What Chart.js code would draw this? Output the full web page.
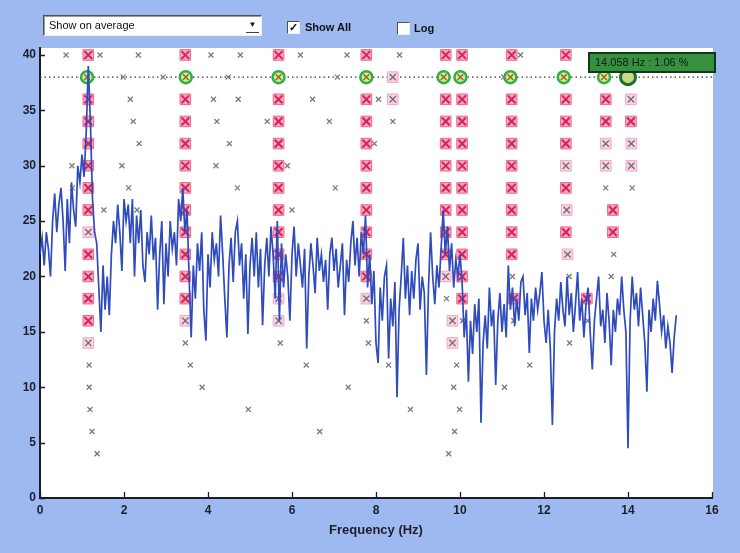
<!DOCTYPE html>
<html>
<head>
<meta charset="utf-8">
<script src="https://cdn.jsdelivr.net/npm/chart.js"></script>
<style>
html, body { margin: 0; padding: 0; }
body {
    width: 740px; height: 553px; overflow: hidden; position: relative;
    background: #9db9ef;
    font-family: "Liberation Sans", Arial, sans-serif;
}
.chart-box { position: absolute; left: 0; top: 0; width: 740px; height: 553px; }
.combo {
    position: absolute; left: 43px; top: 15px; width: 217px; height: 19px;
    background: #fff; border: 1px solid; border-color: #505050 #f0f0f0 #f0f0f0 #505050;
    box-shadow: inset 1px 1px 0 #9a9a9a; font-size: 11px; color: #111;
}
.combo span { position: absolute; left: 5px; top: 3px; }
.combo .arrow {
    position: absolute; right: 2px; top: 2px; width: 13px; height: 14px;
    border-bottom: 1px solid #444; font-size: 8px; text-align: center; line-height: 14px;
}
.check {
    position: absolute; width: 11px; height: 11px; background: #fff;
    border: 1px solid; border-color: #505050 #f0f0f0 #f0f0f0 #505050;
    font-size: 11px; line-height: 11px; text-align: center; font-weight: bold; color: #111;
}
.check-label { position: absolute; font-size: 11px; font-weight: bold; color: #111; }
</style>
</head>
<body>
<div class="chart-box"><canvas id="peakChart"></canvas></div>

<div class="combo"><span>Show on average</span><div class="arrow">&#9660;</div></div>
<div class="check" style="left:287px; top:21px;">&#10003;</div>
<div class="check-label" style="left:305px; top:21px;">Show All</div>
<div class="check" style="left:397px; top:22px;"></div>
<div class="check-label" style="left:414px; top:22px;">Log</div>

<script>
// spectrum, one value every freqStep Hz starting at 0 Hz
const freqStep = 0.05;
const amplitude = [
    22, 23.5, 21, 24, 22.5, 20, 25, 27.5, 24, 26.5, 28, 25, 20.5, 27, 23, 28.5, 26, 24.5, 30, 28.5,
    31, 29, 33, 39, 34, 27, 24, 23, 19, 15, 21, 17, 20, 16.5, 22, 25, 23, 26.5, 24, 20.5,
    27, 25, 26.5, 23, 27, 20, 25.5, 23, 26, 21, 19.5, 24, 22, 25.5, 21.5, 23.5, 17, 22, 25, 17.5,
    23, 20, 25, 22.5, 24, 21, 27, 25, 28, 24, 26, 20, 14.5, 21, 18, 23, 20.5, 24, 17, 14.2,
    22, 19, 24, 21.5, 23, 20, 25.5, 22, 18, 14.5, 21, 23.5, 19.5, 24, 25, 21, 23, 18, 22, 14.8,
    21, 23.5, 20, 24, 19, 22.5, 15.6, 21, 23.5, 20, 24.5, 22, 18, 25, 16, 23, 19, 22, 20, 16,
    22, 24.5, 20, 23, 21, 19, 22.5, 13.5, 20, 23, 21, 18.5, 23.5, 20.5, 22, 19.5, 21.5, 17, 22, 23.5,
    20.5, 22.5, 19, 21, 23, 16.5, 21.5, 19.5, 23, 25, 21, 23.5, 20, 24, 22, 25.5, 19, 22, 17.5, 20.5,
    14, 12.2, 19, 16, 20, 21, 12.6, 18, 15.5, 19.5, 9.1, 17, 20, 23.5, 18, 21, 16.5, 20.5, 18, 21.5,
    23, 17, 20, 18.5, 11.1, 19, 24, 20, 17.5, 21, 19, 22.5, 26, 22, 24.5, 20.5, 23, 19, 21.5, 20,
    22, 19.5, 14.5, 17, 10.5, 16, 13, 17.5, 15, 18, 6.8, 14, 16.5, 13.5, 19, 15.5, 17, 10.2, 16, 18.5,
    15, 17.5, 14.5, 21, 17, 19, 15.5, 18, 16, 19.5, 20, 16.5, 18.5, 13.1, 18, 16, 19, 17, 18.5, 20.4,
    16, 14, 17, 13.5, 6.6, 15, 18, 16, 19.5, 17, 15.5, 20, 16.5, 18.5, 15, 17.5, 20.4, 16, 18, 14.5,
    17.5, 19, 15, 11.6, 16, 18, 20, 15.5, 17, 14, 18.5, 16, 12, 17, 15, 18, 16.5, 20, 17, 15,
    4.5, 16, 20, 17, 18.5, 15.5, 19, 16.5, 14, 9.6, 17, 15, 18, 16, 19.6, 17.5, 15, 16.5, 13.5, 15.5,
    14, 11.3, 14.5, 16.5
];

const xTicks = [0, 2, 4, 6, 8, 10, 12, 14, 16];
const yTicks = [0, 5, 10, 15, 20, 25, 30, 35, 40];
const pickLevel = 38;

// [frequency Hz, level]
const pinkStrong = [
    [1.15, 40], [1.15, 36], [1.15, 34], [1.15, 32], [1.15, 30], [1.15, 28], [1.15, 26], [1.15, 22], [1.15, 20], [1.15, 18], [1.15, 16],
    [3.46, 40], [3.46, 36], [3.46, 34], [3.46, 32], [3.46, 30], [3.46, 28], [3.46, 26], [3.46, 24], [3.46, 22], [3.46, 20], [3.46, 18],
    [5.68, 40], [5.68, 36], [5.68, 34], [5.68, 32], [5.68, 30], [5.68, 28], [5.68, 26], [5.68, 24], [5.68, 22], [5.68, 20],
    [7.77, 40], [7.77, 36], [7.77, 34], [7.77, 32], [7.77, 30], [7.77, 28], [7.77, 26], [7.77, 24], [7.77, 22], [7.77, 20],
    [9.66, 40], [9.66, 36], [9.66, 34], [9.66, 32], [9.66, 30], [9.66, 28], [9.66, 26], [9.66, 24], [9.66, 22],
    [10.05, 40], [10.05, 36], [10.05, 34], [10.05, 32], [10.05, 30], [10.05, 28], [10.05, 26], [10.05, 24], [10.05, 22], [10.05, 20], [10.05, 18],
    [11.23, 40], [11.23, 36], [11.23, 34], [11.23, 32], [11.23, 30], [11.23, 28], [11.23, 26], [11.23, 24], [11.23, 22], [11.28, 18],
    [12.52, 40], [12.52, 36], [12.52, 34], [12.52, 32], [12.52, 28], [12.52, 24],
    [13.47, 36], [13.47, 34], [13.64, 26], [13.64, 24], [14.07, 34], [13.02, 18]
];
const pinkLight = [
    [1.15, 24], [1.15, 14], [3.46, 16], [5.68, 18], [5.68, 16], [7.77, 18], [9.66, 20],
    [9.82, 16], [9.82, 14], [12.52, 30], [12.54, 26], [12.56, 22],
    [13.47, 32], [13.47, 30], [14.07, 36], [14.08, 32], [14.08, 30], [8.4, 38], [8.4, 36]
];
const greenRing = [[1.12, 38], [3.47, 38], [5.68, 38], [7.77, 38], [9.61, 38], [10.01, 38], [11.2, 38], [12.47, 38], [13.43, 38]];
const greenActive = [[14.0, 38]];
const greyCross = [
    [0.62, 40], [1.43, 40], [2.34, 40], [4.07, 40], [4.77, 40], [6.2, 40], [7.31, 40], [8.56, 40], [11.44, 40],
    [1.98, 38], [2.93, 38], [4.48, 38], [7.08, 38], [11.04, 38],
    [2.15, 36], [4.13, 36], [4.72, 36], [6.49, 36], [8.06, 36],
    [2.22, 34], [4.21, 34], [5.41, 34], [6.89, 34], [8.4, 34],
    [2.36, 32], [4.51, 32], [7.96, 32],
    [0.76, 30], [1.95, 30], [4.19, 30], [5.89, 30],
    [0.77, 28], [2.11, 28], [4.7, 28], [7.03, 28], [13.47, 28], [14.1, 28],
    [1.52, 26], [2.31, 26], [6.0, 26],
    [13.66, 22], [11.25, 20], [12.6, 20], [13.6, 20], [9.68, 18],
    [7.77, 16], [10.06, 16], [11.28, 16], [13.04, 16],
    [3.46, 14], [5.72, 14], [7.82, 14], [12.61, 14],
    [1.17, 12], [3.58, 12], [6.34, 12], [8.3, 12], [9.92, 12], [11.66, 12],
    [1.17, 10], [3.86, 10], [7.34, 10], [9.85, 10], [11.06, 10],
    [1.19, 8], [4.96, 8], [8.82, 8], [9.99, 8],
    [1.24, 6], [6.66, 6], [9.87, 6],
    [1.36, 4], [9.73, 4]
];
const cursorFreq = 14.07;
const cursorText = '14.058 Hz : 1.06 %';

const pts = arr => arr.map(p => ({ x: p[0], y: p[1] }));

function marks(data, style, radius, bg, border, width, order) {
    return {
        data: pts(data), showLine: false, pointStyle: style, pointRadius: radius,
        backgroundColor: bg, borderColor: border, pointBorderWidth: width,
        borderWidth: width, order: order, clip: false
    };
}

const plotBg = {
    id: 'plotBg',
    beforeDraw(chart) {
        const a = chart.chartArea, ctx = chart.ctx;
        ctx.save();
        ctx.fillStyle = '#ffffff';
        ctx.fillRect(a.left, a.top, a.right - a.left + 1, a.bottom - a.top);
        ctx.restore();
    }
};

// matlab style ticks pointing into the plot
const innerTicks = {
    id: 'innerTicks',
    afterDraw(chart) {
        const { ctx, chartArea: a, scales } = chart;
        ctx.save();
        ctx.strokeStyle = '#1b1b2b';
        ctx.lineWidth = 1.3;
        ctx.beginPath();
        scales.y.ticks.forEach(t => {
            const py = Math.round(scales.y.getPixelForValue(t.value)) + 0.5;
            ctx.moveTo(a.left, py); ctx.lineTo(a.left + 5, py);
        });
        scales.x.ticks.forEach(t => {
            const px = Math.round(scales.x.getPixelForValue(t.value)) + 0.5;
            ctx.moveTo(px, a.bottom); ctx.lineTo(px, a.bottom - 6);
        });
        ctx.stroke();
        ctx.restore();
    }
};

const cursorBox = {
    id: 'cursorBox',
    afterDatasetsDraw(chart) {
        const { ctx, scales } = chart;
        const px = scales.x.getPixelForValue(cursorFreq);
        const py = scales.y.getPixelForValue(pickLevel);
        const left = Math.round(px - 43), top = Math.round(py - 25);
        ctx.save();
        ctx.fillStyle = '#36903f';
        ctx.fillRect(left, top, 128, 21);
        ctx.strokeStyle = '#0f3a17';
        ctx.lineWidth = 2;
        ctx.strokeRect(left + 1, top + 1, 126, 19);
        ctx.fillStyle = '#0b1f0d';
        ctx.font = '11px "Liberation Sans", Arial, sans-serif';
        ctx.textBaseline = 'middle';
        ctx.fillText(cursorText, left + 7, top + 11);
        ctx.restore();
    }
};

new Chart(document.getElementById('peakChart'), {
    type: 'scatter',
    data: {
        datasets: [
            {
                data: amplitude.map((v, i) => ({ x: i * freqStep, y: v })),
                showLine: true, borderColor: '#2f4bbd', borderWidth: 1.7,
                pointRadius: 0, order: 0
            },
            marks(greyCross, 'crossRot', 3.5, '#7a7a7a', '#7a7a7a', 1.3, 1),
            marks(pinkStrong, 'crossRot', 5.5, '#d3264f', '#d3264f', 2, 2),
            marks(pinkLight, 'crossRot', 4.5, '#6f6f7a', '#6f6f7a', 1.4, 2),
            marks(greenRing, 'crossRot', 4, '#8a6b2e', '#8a6b2e', 1.5, 2),
            marks(pinkStrong, 'rect', 7.5, '#f7a8c2', '#ec6791', 1, 3),
            marks(pinkLight, 'rect', 7.5, '#fbd3e2', '#f2a6c3', 1, 3),
            marks(greenRing, 'circle', 6, '#dbe98e', '#2eae49', 2.5, 3),
            marks(greenActive, 'circle', 7.5, '#c9d98a', '#1f6d2d', 3, 3),
            {
                data: [{ x: 0, y: pickLevel }, { x: 16, y: pickLevel }],
                showLine: true, borderColor: '#333333', borderWidth: 1.3,
                borderDash: [1.5, 3], pointRadius: 0, order: 9
            }
        ]
    },
    options: {
        responsive: true,
        maintainAspectRatio: false,
        animation: false,
        layout: { padding: { top: 48, right: 28, bottom: 0, left: 0 } },
        scales: {
            x: {
                type: 'linear', min: 0, max: 16,
                afterFit: s => { s.height = 55; },
                afterBuildTicks: s => { s.ticks = xTicks.map(v => ({ value: v })); },
                grid: { display: false, drawTicks: false },
                border: { display: true, color: '#1b1b2b', width: 2 },
                ticks: {
                    padding: 5, color: '#1e1e2a',
                    font: { family: '"Liberation Sans", Arial, sans-serif', size: 12, weight: 'bold' }
                },
                title: {
                    display: true, text: 'Frequency (Hz)', color: '#1e1e2a',
                    padding: { top: 0, bottom: 15 },
                    font: { family: '"Liberation Sans", Arial, sans-serif', size: 13, weight: 'bold' }
                }
            },
            y: {
                type: 'linear', min: 0, max: 40.63,
                afterFit: s => { s.width = 40; },
                afterBuildTicks: s => { s.ticks = yTicks.map(v => ({ value: v })); },
                grid: { display: false, drawTicks: false },
                border: { display: true, color: '#1b1b2b', width: 2 },
                ticks: {
                    padding: 4, color: '#1e1e2a',
                    font: { family: '"Liberation Sans", Arial, sans-serif', size: 12, weight: 'bold' }
                }
            }
        },
        plugins: {
            legend: { display: false },
            tooltip: { enabled: false }
        }
    },
    plugins: [plotBg, innerTicks, cursorBox]
});
</script>
</body>
</html>
